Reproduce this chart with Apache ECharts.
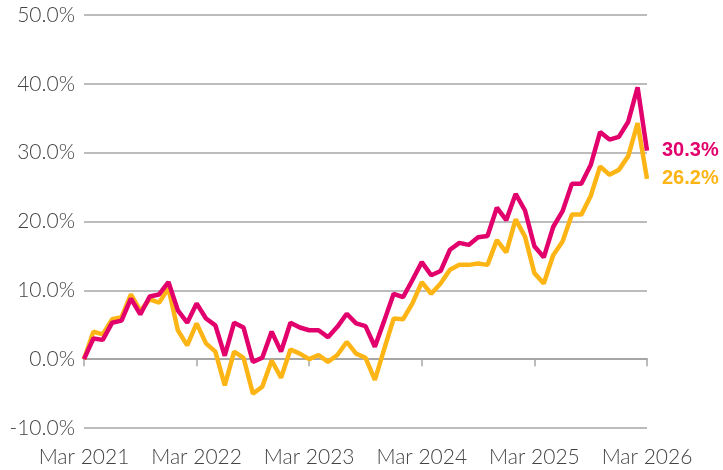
<!DOCTYPE html>
<html>
<head>
<meta charset="utf-8">
<script src="https://cdn.jsdelivr.net/npm/echarts@6/dist/echarts.min.js"></script>
<style>html,body{margin:0;padding:0;background:#fff;}#c{width:723px;height:470px;}</style>
</head>
<body>
<div id="c"></div>
<script>
// Month categories Mar 2021 .. Mar 2026
const monthNames = ['Jan','Feb','Mar','Apr','May','Jun','Jul','Aug','Sep','Oct','Nov','Dec'];
const categories = [];
for (let i = 0; i <= 60; i++) {
  const m = (2 + i) % 12;
  const y = 2021 + Math.floor((2 + i) / 12);
  categories.push(monthNames[m] + ' ' + y);
}
const magentaValues = [0.0,3.0,2.8,5.3,5.6,8.8,6.5,9.1,9.4,11.2,7.1,5.3,8.1,5.9,4.9,0.5,5.3,4.6,-0.4,0.2,4.0,1.1,5.3,4.6,4.2,4.2,3.2,4.7,6.6,5.2,4.8,1.8,5.6,9.5,9.0,11.5,14.1,12.2,12.8,15.9,16.9,16.6,17.7,17.9,22.0,20.2,24.0,21.6,16.4,14.8,19.2,21.5,25.5,25.5,28.2,33.0,31.9,32.3,34.5,39.5,30.3];
const yellowValues = [0.0,4.0,3.6,5.8,6.1,9.4,7.0,8.7,8.2,10.3,4.2,2.0,5.2,2.3,1.1,-3.8,1.1,0.2,-5.0,-4.0,-0.2,-2.7,1.4,0.8,0.0,0.6,-0.4,0.6,2.5,0.8,0.2,-3.0,1.5,5.9,5.8,8.1,11.2,9.5,11.0,13.0,13.7,13.7,13.9,13.7,17.3,15.5,20.3,17.8,12.5,11.0,15.1,17.1,21.0,21.0,23.7,28.0,26.8,27.5,29.5,34.3,26.2];
const yTicks = [-10, 0, 10, 20, 30, 40, 50];

const chart = echarts.init(document.getElementById('c'), null, {renderer: 'canvas'});
chart.setOption({
  animation: false,
  grid: {left: 84, right: 76, top: 15, bottom: 42, containLabel: false},
  xAxis: {
    type: 'category',
    data: categories,
    boundaryGap: false,
    axisLine: {lineStyle: {color: '#a6a6a6', width: 2}},
    axisTick: {interval: 11, length: 7, lineStyle: {color: '#a6a6a6', width: 1.5}},
    axisLabel: {
      interval: 11,
      margin: 19,
      color: '#444',
      fontSize: 21,
      fontWeight: 300,
      fontFamily: 'Lato, sans-serif'
    },
    splitLine: {show: false}
  },
  yAxis: {
    type: 'value',
    min: yTicks[0],
    max: yTicks[yTicks.length - 1],
    interval: 10,
    axisLine: {show: false},
    axisTick: {show: false},
    axisLabel: {
      margin: 9,
      color: '#444',
      fontSize: 21,
      fontWeight: 300,
      fontFamily: 'Lato, sans-serif',
      formatter: v => v.toFixed(1) + '%'
    },
    splitLine: {lineStyle: {color: '#a6a6a6', width: 1.5}}
  },
  series: [
    {
      name: 'Yellow',
      type: 'line',
      data: yellowValues,
      symbol: 'none',
      lineStyle: {color: '#FDB515', width: 4.5},
      itemStyle: {color: '#FDB515'},
      endLabel: {
        show: true,
        distance: 15,
        color: '#FDB515',
        fontSize: 20,
        fontWeight: 'bold',
        fontFamily: 'Liberation Sans, Arial, sans-serif',
        formatter: p => p.value.toFixed(1) + '%'
      }
    },
    {
      name: 'Magenta',
      type: 'line',
      data: magentaValues,
      symbol: 'none',
      lineStyle: {color: '#E2006D', width: 4.5},
      itemStyle: {color: '#E2006D'},
      endLabel: {
        show: true,
        distance: 15,
        color: '#E2006D',
        fontSize: 20,
        fontWeight: 'bold',
        fontFamily: 'Liberation Sans, Arial, sans-serif',
        formatter: p => p.value.toFixed(1) + '%'
      }
    }
  ]
});
</script>
</body>
</html>
